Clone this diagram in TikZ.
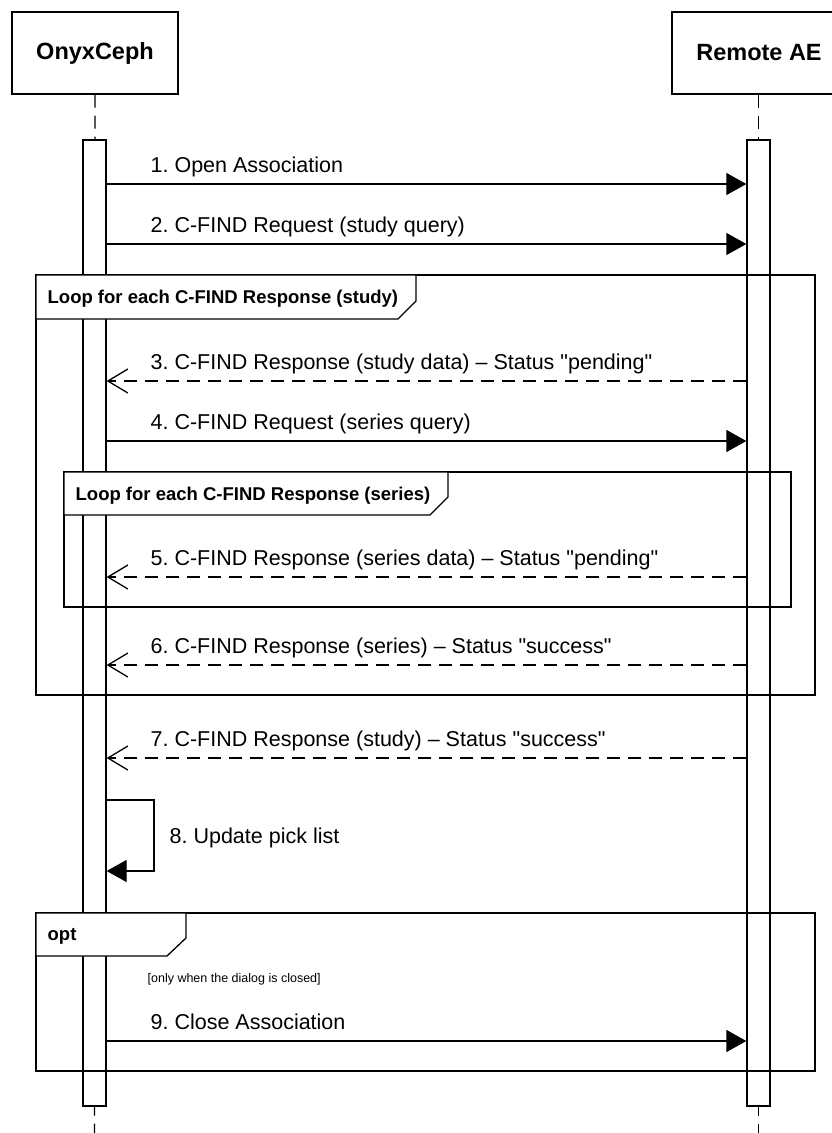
\documentclass[tikz,border=0pt]{standalone}
\usepackage{fontspec}
\setmainfont{Liberation Sans}
\newfontfamily\lsans{Liberation Sans}
\usetikzlibrary{arrows.meta}
\frenchspacing
\begin{document}
\begin{tikzpicture}[x=1pt,y=-1pt, line width=1.3pt,
  hdr/.style={draw, fill=white, minimum height=82pt, inner sep=0pt, font=\lsans\fontsize{23.5}{28}\selectfont\bfseries},
  bar/.style={draw, fill=white, minimum width=23pt, minimum height=966pt, inner sep=0pt},
  lbl/.style={anchor=base west, inner sep=0pt, font=\lsans\fontsize{21.5}{26}\selectfont},
  flbl/.style={anchor=base west, inner sep=0pt, font=\lsans\fontsize{18.5}{22}\selectfont\bfseries},
  glbl/.style={anchor=base west, inner sep=0pt, font=\lsans\fontsize{12.5}{15}\selectfont},
  call/.style={-{Triangle[length=20pt,width=22pt]}},
  reply/.style={dash pattern=on 13pt off 8pt, -{Straight Barb[length=20pt,width=24pt]}},
  life/.style={dash pattern=on 13pt off 8pt},
  frame/.style={draw},
  tab/.style={draw, fill=white},
]
\useasboundingbox (0,0) rectangle (832,1133);
\clip (0,0) rectangle (832,1133);
\fill[white] (0,0) rectangle (832,1133);

% headers
\node[hdr, minimum width=166pt] (oh) at (95,53) {OnyxCeph};
\node[hdr, minimum width=174pt] (rh) at (759,53) {Remote AE};

% lifelines
\coordinate (oend) at (94.5,1133);
\coordinate (rend) at (758.5,1133);
\draw[life] (oh.south) -- (oend);
\draw[life] (rh.south -| rend) -- (rend);

% activation bars
\node[bar] (oa) at (94.5,623) {};
\node[bar] (ra) at (758.5,623) {};

% frames
\draw[frame] (36,275) rectangle (815,695);
\draw[tab] (36,275) -- (416,275) -- (416,301) -- (398,319) -- (36,319) -- cycle;
\node[flbl] (f1) at (47,303) {Loop for each C-FIND Response (study)};

\draw[frame] (64,472) rectangle (791,607);
\draw[tab] (64,472) -- (448,472) -- (448,497) -- (430,515) -- (64,515) -- cycle;
\node[flbl] (f2) at (75,500) {Loop for each C-FIND Response (series)};

\draw[frame] (36,913) rectangle (815,1071);
\draw[tab] (36,913) -- (186,913) -- (186,938) -- (167,956) -- (36,956) -- cycle;
\node[flbl] (f3) at (47,940) {opt};
\node[glbl] (g3) at (147,982) {[only when the dialog is closed]};

% message rows
\coordinate (m1) at (0,184);
\coordinate (m2) at (0,244);
\coordinate (m3) at (0,381);
\coordinate (m4) at (0,441);
\coordinate (m5) at (0,577);
\coordinate (m6) at (0,665);
\coordinate (m7) at (0,758);
\coordinate (m8a) at (0,800);
\coordinate (m8b) at (0,871);
\coordinate (m9) at (0,1041);
\coordinate (selfx) at (154,0);

\draw[call] (oa.east |- m1) -- (ra.west |- m1);
\node[lbl] (l1) at (150,172) {1. Open Association};
\draw[call] (oa.east |- m2) -- (ra.west |- m2);
\node[lbl] (l2) at (150,232) {2. C-FIND Request (study query)};
\draw[reply] (ra.west |- m3) -- (oa.east |- m3);
\node[lbl] (l3) at (150,369) {3. C-FIND Response (study data) – Status "pending"};
\draw[call] (oa.east |- m4) -- (ra.west |- m4);
\node[lbl] (l4) at (150,429) {4. C-FIND Request (series query)};
\draw[reply] (ra.west |- m5) -- (oa.east |- m5);
\node[lbl] (l5) at (150,565) {5. C-FIND Response (series data) – Status "pending"};
\draw[reply] (ra.west |- m6) -- (oa.east |- m6);
\node[lbl] (l6) at (150,653) {6. C-FIND Response (series) – Status "success"};
\draw[reply] (ra.west |- m7) -- (oa.east |- m7);
\node[lbl] (l7) at (150,746) {7. C-FIND Response (study) – Status "success"};
\draw[call] (oa.east |- m8a) -- (selfx |- m8a) -- (selfx |- m8b) -- (oa.east |- m8b);
\node[lbl] (l8) at (169,843) {8. Update pick list};
\draw[call] (oa.east |- m9) -- (ra.west |- m9);
\node[lbl] (l9) at (150,1029) {9. Close Association};
\end{tikzpicture}
\end{document}
